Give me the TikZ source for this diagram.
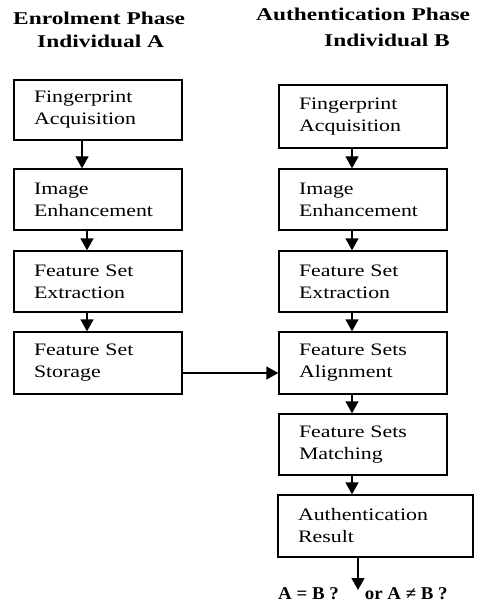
\documentclass[tikz,border=0pt]{standalone}
\usepackage{fontspec}
\setmainfont{Liberation Serif}[FakeStretch=1.25]
\newfontfamily\headfont{Liberation Serif}[FakeStretch=1.3]
\newfontfamily\resfont{Liberation Serif}[FakeStretch=1.05]
\usetikzlibrary{arrows.meta}
\begin{document}
\begin{tikzpicture}[x=1pt,y=-1pt,
  box/.style={draw=black, line width=1.3pt, minimum width=168pt, text width=128pt,
    inner xsep=20pt, inner ysep=0pt, align=left,
    font=\fontsize{17.5}{22}\selectfont, anchor=center},
  arr/.style={line width=1.3pt, -{Triangle[width=13pt,length=12pt]}},
  head/.style={font=\headfont\bfseries\fontsize{18}{20}\selectfont, inner sep=0pt, anchor=base west}]
\useasboundingbox (0,0) rectangle (477,604);

% headings
\node[head] (h1) at (13,25) {Enrolment Phase};
\node[head] (h2) at (37,48) {Individual A};
\node[head] (h3) at (256,21) {Authentication Phase};
\node[head] (h4) at (324,47) {Individual B};

% left column
\node[box, minimum height=60pt] (l1) at (98,110) {Fingerprint\\Acquisition};
\node[box, minimum height=61pt] (l2) at (98,199.5) {Image\\Enhancement};
\node[box, minimum height=61pt] (l3) at (98,281.5) {Feature Set\\Extraction};
\node[box, minimum height=62pt] (l4) at (98,363) {Feature Set\\Storage};

% right column
\node[box, minimum height=63pt] (r1) at (363,116.5) {Fingerprint\\Acquisition};
\node[box, minimum height=61pt] (r2) at (363,199.5) {Image\\Enhancement};
\node[box, minimum height=61pt] (r3) at (363,281.5) {Feature Set\\Extraction};
\node[box, minimum height=62pt] (r4) at (363,363) {Feature Sets\\Alignment};
\node[box, minimum height=61pt] (r5) at (363,444.5) {Feature Sets\\Matching};
\node[box, minimum height=62pt, minimum width=195pt, text width=155pt] (r6) at (375.5,526) {Authentication\\Result};

% arrows left
\draw[arr] (l1.south -| 82,0) -- (l2.north -| 82,0);
\draw[arr] (l2.south -| 87,0) -- (l3.north -| 87,0);
\draw[arr] (l3.south -| 87,0) -- (l4.north -| 87,0);

% arrows right
\draw[arr] (r1.south -| 352,0) -- (r2.north -| 352,0);
\draw[arr] (r2.south -| 352,0) -- (r3.north -| 352,0);
\draw[arr] (r3.south -| 352,0) -- (r4.north -| 352,0);
\draw[arr] (r4.south -| 352,0) -- (r5.north -| 352,0);
\draw[arr] (r5.south -| 352,0) -- (r6.north -| 352,0);

% storage to alignment
\draw[arr] (l4.east |- 0,373) -- (r4.west |- 0,373);

% result
\node[anchor=base west, font=\resfont\bfseries\fontsize{18}{20}\selectfont, inner sep=0pt] (lab) at (278,599) {A = B ?\hspace{26pt}or A ≠ B ?};
\coordinate (res) at (358,590);
\draw[arr] (r6.south -| 358,0) -- (res);
\end{tikzpicture}
\end{document}
